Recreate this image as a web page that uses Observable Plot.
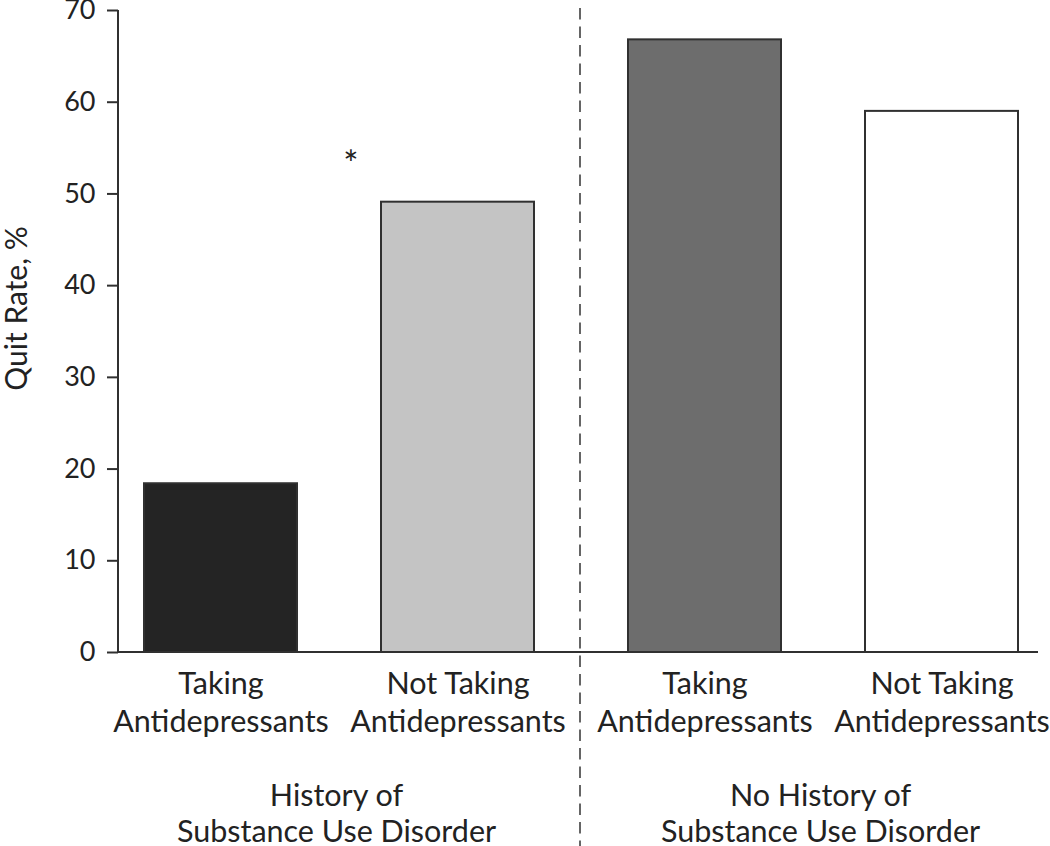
<!DOCTYPE html>
<html>
<head>
<meta charset="utf-8">
<script src="https://cdn.jsdelivr.net/npm/d3@7"></script>
<script src="https://cdn.jsdelivr.net/npm/@observablehq/plot@0.6"></script>
<style>
  html, body { margin: 0; padding: 0; background: #fff; }
  #chart { width: 1050px; height: 846px; }
</style>
</head>
<body>
<div id="chart"></div>
<script>
// ---- data ----
const groups = ["History of\nSubstance Use Disorder", "No History of\nSubstance Use Disorder"];
const statuses = ["Taking\nAntidepressants", "Not Taking\nAntidepressants"];
const quitRateHistory = [18.4, 49.1];     // Taking, Not Taking
const quitRateNoHistory = [66.8, 59.0];   // Taking, Not Taking
const yTicks = [0, 10, 20, 30, 40, 50, 60, 70];
const yLabel = "Quit Rate, %";
const significance = [{group: groups[0], status: statuses[1], label: "*"}];

const table = [
  ...statuses.map((s, i) => ({group: groups[0], status: s, rate: quitRateHistory[i]})),
  ...statuses.map((s, i) => ({group: groups[1], status: s, rate: quitRateNoHistory[i]}))
];
const keys = table.map(d => d.group + "|" + d.status);
const sigRows = significance.map(a => ({...a, rate: table.find(d => d.group === a.group && d.status === a.status).rate}));

const ink = "#222";
const plot = Plot.plot({
  width: 1050,
  height: 846,
  marginLeft: 118,
  marginRight: 12,
  marginTop: 10,
  marginBottom: 194,
  style: {fontFamily: "Lato", fontSize: "30px", color: ink, background: "#fff", overflow: "visible"},
  fx: {domain: groups, paddingInner: 0.1, paddingOuter: 0, label: null},
  x: {domain: statuses, paddingInner: 0.3565, paddingOuter: 0.097, align: 0.56, label: null},
  y: {domain: [0, 70], label: null},
  color: {type: "ordinal", domain: keys, range: ["#242424", "#c4c4c4", "#6d6d6d", "#ffffff"]},
  marks: [
    Plot.barY(table, {fx: "group", x: "status", y: "rate", fill: d => d.group + "|" + d.status, stroke: "#303030", strokeWidth: 2}),
    Plot.axisY({ticks: yTicks, tickSize: 11, tickPadding: 12, strokeWidth: 2, stroke: "#303030", fontSize: 27, label: null}),
    Plot.axisX({tickSize: 0, tickPadding: 15, lineHeight: 1.23, fontSize: 30.5, label: null}),
    Plot.axisFx({anchor: "bottom", tickSize: 0, tickPadding: 128, lineHeight: 1.17, fontSize: 30.5, label: null}),
    Plot.text([yLabel], {fx: [groups[0]], frameAnchor: "left", textAnchor: "middle", text: d => d, rotate: -90, dx: -101, dy: -23, fontSize: 30, fill: ink}),
    Plot.text(sigRows, {fx: "group", x: "status", y: "rate", text: "label", dx: -107, dy: -37, fontSize: 36, fill: ink})
  ]
});

// axis lines and the dashed divider between the two groups, placed with Plot's own scales
const svg = d3.select(plot);
const fx = plot.scale("fx");
const y = plot.scale("y");
const xLeft = fx.range[0], xRight = fx.range[1];
svg.append("line")
  .attr("x1", xLeft).attr("x2", xLeft)
  .attr("y1", y.apply(70)).attr("y2", y.apply(0))
  .attr("stroke", "#303030").attr("stroke-width", 2);
svg.append("line")
  .attr("x1", xLeft).attr("x2", xRight)
  .attr("y1", y.apply(0)).attr("y2", y.apply(0))
  .attr("stroke", "#303030").attr("stroke-width", 2);
const gapMid = fx.apply(groups[1]) - (fx.step - fx.bandwidth) / 2;
svg.append("line")
  .attr("x1", gapMid + 2).attr("x2", gapMid + 2)
  .attr("y1", y.apply(70) - 2).attr("y2", 846)
  .attr("stroke", "#555").attr("stroke-width", 1.8).attr("stroke-dasharray", "11.5 7");

document.getElementById("chart").appendChild(plot);
</script>
</body>
</html>
